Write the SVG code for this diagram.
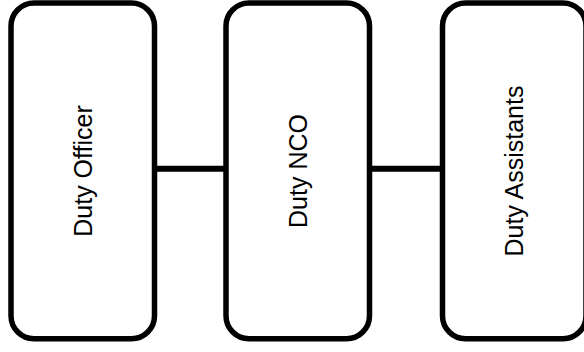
<svg xmlns="http://www.w3.org/2000/svg" width="584" height="352" viewBox="0 0 584 352">
<style>
.box{fill:#ffffff;stroke:#000000;stroke-width:5.5}
.lbl{font-family:"Liberation Sans",Arial,sans-serif;font-size:25px;fill:#000000;text-anchor:middle}
.conn{stroke:#000000;stroke-width:6;fill:none}
</style>
<rect width="584" height="352" fill="#ffffff"/>
<g id="connectors">
<line class="conn" x1="154.5" y1="168.7" x2="226" y2="168.7"/>
<line class="conn" x1="369.5" y1="168.7" x2="442.5" y2="168.7"/>
</g>
<g id="duty-officer">
<rect class="box" x="11" y="3" width="143.5" height="335.7" rx="23" ry="23"/>
<text class="lbl" transform="translate(82.75,171) rotate(-90)" dy="9">Duty Officer</text>
</g>
<g id="duty-nco">
<rect class="box" x="226" y="3" width="143.5" height="335.7" rx="23" ry="23"/>
<text class="lbl" transform="translate(297.75,171) rotate(-90)" dy="9">Duty NCO</text>
</g>
<g id="duty-assistants">
<rect class="box" x="442.5" y="3" width="143.5" height="335.7" rx="23" ry="23"/>
<text class="lbl" transform="translate(514.25,171) rotate(-90)" dy="9">Duty Assistants</text>
</g>
</svg>
